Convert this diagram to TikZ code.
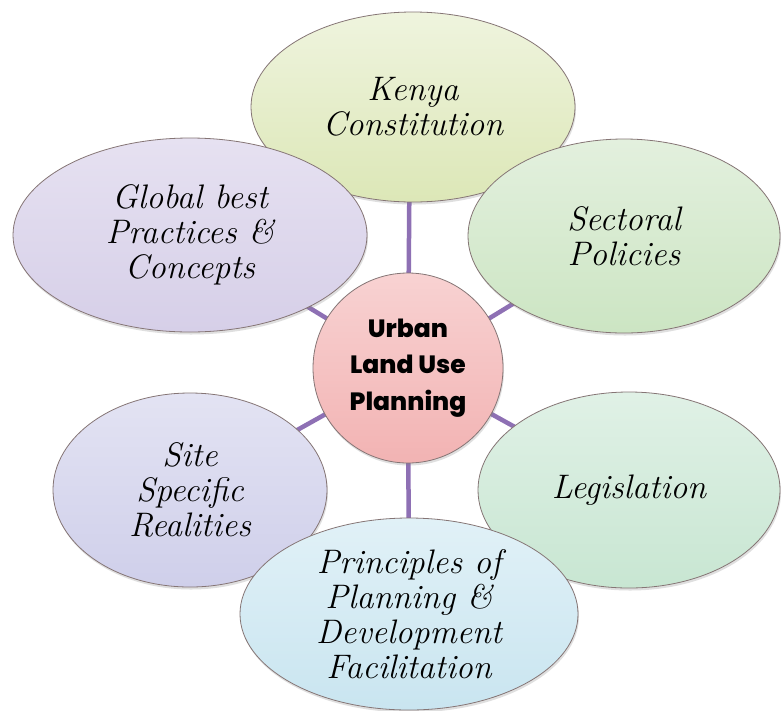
\documentclass[tikz,border=0pt]{standalone}
\usepackage{fontspec}
\usetikzlibrary{shapes.geometric,shadows}
\newfontfamily\hubfont{Poppins}[UprightFont=* ExtraBold]
\newcommand{\scriptfnt}{\itshape}
\definecolor{edgecol}{HTML}{857575}
\definecolor{linkcol}{HTML}{8E70B4}
\definecolor{pink1}{HTML}{F8D2D2}
\definecolor{pink2}{HTML}{F2B3B3}
\definecolor{kenA}{HTML}{EFF4DE}\definecolor{kenB}{HTML}{DCE7B7}
\definecolor{gloA}{HTML}{E6E1F1}\definecolor{gloB}{HTML}{D6CFE8}
\definecolor{secA}{HTML}{E3F0DE}\definecolor{secB}{HTML}{CCE5C3}
\definecolor{sitA}{HTML}{E3E3F3}\definecolor{sitB}{HTML}{CFCFEA}
\definecolor{legA}{HTML}{E0F1E6}\definecolor{legB}{HTML}{C8E6D2}
\definecolor{priA}{HTML}{E1F1F7}\definecolor{priB}{HTML}{C9E5F0}
\tikzset{
  bubble/.style={ellipse, draw=edgecol, line width=0.8pt, inner sep=0pt, align=center,
    font=\scriptfnt\fontsize{34}{35}\selectfont,
    drop shadow={opacity=0.25, shadow xshift=1pt, shadow yshift=-2.5pt}},
  hub/.style={circle, draw=edgecol, line width=0.8pt, inner sep=0pt, minimum size=190pt,
    align=center, font=\hubfont\fontsize{25}{36.5}\selectfont,
    top color=pink1, bottom color=pink2,
    drop shadow={opacity=0.25, shadow xshift=1pt, shadow yshift=-2.5pt}},
  link/.style={draw=linkcol, line width=4.5pt}
}
\begin{document}
\begin{tikzpicture}[x=1pt,y=-1pt]
\useasboundingbox (0,0) rectangle (781,710);
\fill[white] (0,0) rectangle (781,710);
\coordinate (hc) at (408,368);
\coordinate (kc) at (413,107);
\coordinate (gc) at (190,235);
\coordinate (sc) at (624,236);
\coordinate (rc) at (190,490);
\coordinate (lc) at (629,490);
\coordinate (pc) at (409,614);
\coordinate (kl) at (410,107);
\draw[link] (hc) -- (kl);
\draw[link] (hc) -- (gc);
\draw[link] (hc) -- (sc);
\draw[link] (hc) -- (rc);
\draw[link] (hc) -- (lc);
\draw[link] (hc) -- (pc);
\node[bubble, minimum width=324pt, minimum height=190pt, top color=kenA, bottom color=kenB] (kenya) at (kc) {Kenya\\Constitution};
\node[bubble, minimum width=354pt, minimum height=194pt, top color=gloA, bottom color=gloB] (global) at (gc) {Global best\\Practices \&\\Concepts};
\node[bubble, minimum width=312pt, minimum height=194pt, top color=secA, bottom color=secB] (sector) at (sc) {Sectoral\\Policies};
\node[bubble, minimum width=274pt, minimum height=194pt, top color=sitA, bottom color=sitB] (site) at (rc) {Site\\Specific\\Realities};
\node[bubble, minimum width=302pt, minimum height=196pt, top color=legA, bottom color=legB] (legis) at (lc) {Legislation};
\node[bubble, minimum width=338pt, minimum height=192pt, top color=priA, bottom color=priB] (princ) at (pc) {Principles of\\Planning \&\\Development\\Facilitation};
\node[hub] (hub) at (hc) {Urban\\Land Use\\Planning};
\end{tikzpicture}
\end{document}
